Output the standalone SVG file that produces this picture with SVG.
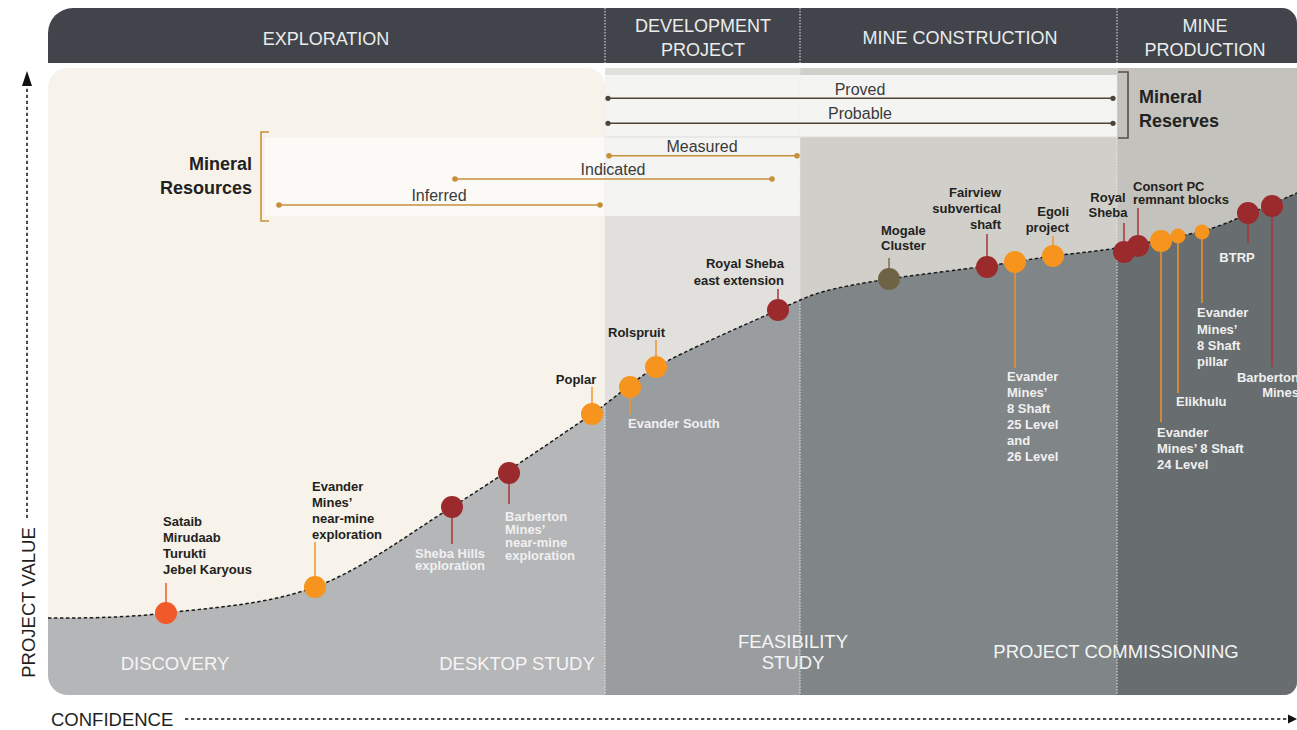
<svg xmlns="http://www.w3.org/2000/svg" width="1297" height="730" viewBox="0 0 1297 730">
<style>
text { font-family: "Liberation Sans", Arial, sans-serif; }
.hdr { font-size: 18px; fill: #ececec; text-anchor: middle; }
.stage { font-size: 18.5px; fill: #f5f5f5; text-anchor: middle; }
.lbl { font-size: 13px; font-weight: bold; fill: #231f20; }
.lt { fill: #f0f0f0; }
.mid { text-anchor: middle; }
.end { text-anchor: end; }
.rng { font-size: 16px; fill: #3a3a3a; text-anchor: middle; }
.big { font-size: 18px; font-weight: bold; fill: #222; }
.axis { font-size: 18.5px; fill: #231f20; }
.div { stroke: #e9e9e9; stroke-width: 1; stroke-dasharray: 1.5 1.5; fill: none; }
.res { stroke: #c68f3b; stroke-width: 1.6; fill: none; }
.rsv { stroke: #4f4338; stroke-width: 1.6; fill: none; }
.or { fill: #f7941d; }
.rd { fill: #9b2a2d; }
.sor { stroke: #f0952a; stroke-width: 1.5; }
.srd { stroke: #a8353a; stroke-width: 1.5; }
.ax { stroke: #111; stroke-width: 1.5; stroke-dasharray: 3.3 2.7; fill: none; }
</style>
<defs>
<clipPath id="panel">
<path d="M68,68 L587,68 A18,18 0 0 1 605,86 L605,68 L1297,68 L1297,682 A13,13 0 0 1 1284,695 L68,695 A20,20 0 0 1 48,675 L48,88 A20,20 0 0 1 68,68 Z"/>
</clipPath>
<clipPath id="under">
<path d="M48,618 C80,618 121.5,618.2 166,613 C210.5,607.8 267.3,604.7 315,587 C362.7,569.3 405.8,535.8 452,507 C498.2,478.2 558,437.3 592,414 C612.4,400 637.4,377.4 656,367 C687,349.7 750.3,322.5 778,310 C791.8,303.8 807.2,296.2 822,292 C840.5,286.8 861.5,283.3 889,279 C916.5,274.7 959.7,269.8 987,266 C1014.3,262.2 1031.3,259 1053,256 C1074.7,253 1092.2,252.2 1117,248 C1141.8,243.8 1180.2,236.7 1202,231 C1223.8,225.3 1232.2,220.3 1248,214 C1263.8,207.7 1288.8,196.5 1297,193 L1297,700 L48,700 Z"/>
</clipPath>
</defs>

<!-- header -->
<g id="header">
<path d="M73,8 H1282 A15,15 0 0 1 1297,23 V63 H48 V33 A25,25 0 0 1 73,8 Z" fill="#41454b"/>
<line x1="605" y1="8" x2="605" y2="63" class="div"/>
<line x1="800" y1="8" x2="800" y2="63" class="div"/>
<line x1="1117" y1="8" x2="1117" y2="63" class="div"/>
<text class="hdr" x="326" y="44.5">EXPLORATION</text>
<text class="hdr" x="703" y="32">DEVELOPMENT</text>
<text class="hdr" x="703" y="56">PROJECT</text>
<text class="hdr" x="960" y="43.5">MINE CONSTRUCTION</text>
<text class="hdr" x="1205" y="32">MINE</text>
<text class="hdr" x="1205" y="56">PRODUCTION</text>
</g>

<!-- main panel -->
<g id="panel-bg" clip-path="url(#panel)">
<rect x="48" y="68" width="557" height="627" fill="#f7f3ea"/>
<rect x="605" y="68" width="195" height="627" fill="#e1e0dc"/>
<rect x="800" y="68" width="317" height="627" fill="#d0cfca"/>
<rect x="1117" y="68" width="180" height="627" fill="#c3c2bc"/>
<rect x="605" y="75" width="512" height="62" fill="#f4f4f2"/>
<line x1="605" y1="137" x2="1117" y2="137" stroke="#dedddb" stroke-width="1"/>
<rect x="265" y="137.5" width="340" height="78.5" fill="#fbfaf7"/>
<rect x="605" y="137.5" width="195" height="78.5" fill="#f4f4f2"/>
<g clip-path="url(#under)">
<rect x="48" y="150" width="557" height="560" fill="#b5b6b8"/>
<rect x="605" y="150" width="195" height="560" fill="#9a9da0"/>
<rect x="800" y="150" width="317" height="560" fill="#808587"/>
<rect x="1117" y="150" width="180" height="560" fill="#686d6f"/>
</g>
<line x1="605" y1="68" x2="605" y2="695" class="div"/>
<line x1="800" y1="68" x2="800" y2="695" class="div"/>
<line x1="1117" y1="68" x2="1117" y2="695" class="div"/>
</g>

<!-- stage labels -->
<g id="stages">
<text class="stage" x="175" y="669.5">DISCOVERY</text>
<text class="stage" x="517" y="669.5">DESKTOP STUDY</text>
<text class="stage" x="793" y="647.5">FEASIBILITY</text>
<text class="stage" x="793" y="669">STUDY</text>
<text class="stage" x="1116" y="658">PROJECT COMMISSIONING</text>
</g>

<!-- reserves / resources -->
<g id="mineral-reserves">
<line x1="608" y1="98.3" x2="1113" y2="98.3" class="rsv"/>
<circle cx="608" cy="98.3" r="2.6" fill="#4f4338"/>
<circle cx="1113" cy="98.3" r="2.6" fill="#4f4338"/>
<text class="rng" x="860" y="95">Proved</text>
<line x1="608" y1="123.3" x2="1113" y2="123.3" class="rsv"/>
<circle cx="608" cy="123.3" r="2.6" fill="#4f4338"/>
<circle cx="1113" cy="123.3" r="2.6" fill="#4f4338"/>
<text class="rng" x="860" y="119">Probable</text>
<path d="M1118,72 H1128 V138 H1118" stroke="#5a4f45" stroke-width="1.6" fill="none"/>
<text class="big" x="1139" y="103">Mineral</text>
<text class="big" x="1139" y="126.5">Reserves</text>
</g>
<g id="mineral-resources">
<line x1="609" y1="155.7" x2="797" y2="155.7" class="res"/>
<circle cx="609" cy="155.7" r="2.8" fill="#c68f3b"/>
<circle cx="797" cy="155.7" r="2.8" fill="#c68f3b"/>
<text class="rng" x="702" y="152">Measured</text>
<line x1="455" y1="179" x2="772" y2="179" class="res"/>
<circle cx="455" cy="179" r="2.8" fill="#c68f3b"/>
<circle cx="772" cy="179" r="2.8" fill="#c68f3b"/>
<text class="rng" x="613" y="175">Indicated</text>
<line x1="279" y1="205" x2="600" y2="205" class="res"/>
<circle cx="279" cy="205" r="2.8" fill="#c68f3b"/>
<circle cx="600" cy="205" r="2.8" fill="#c68f3b"/>
<text class="rng" x="439" y="201">Inferred</text>
<path d="M269,132 H261 V221 H269" stroke="#c8913c" stroke-width="1.6" fill="none"/>
<text class="big" x="252" y="170" text-anchor="end">Mineral</text>
<text class="big" x="252" y="194" text-anchor="end">Resources</text>
</g>

<!-- connectors: value curve and axes -->
<g id="connectors">
<path d="M48,618 C80,618 121.5,618.2 166,613 C210.5,607.8 267.3,604.7 315,587 C362.7,569.3 405.8,535.8 452,507 C498.2,478.2 558,437.3 592,414 C612.4,400 637.4,377.4 656,367 C687,349.7 750.3,322.5 778,310 C791.8,303.8 807.2,296.2 822,292 C840.5,286.8 861.5,283.3 889,279 C916.5,274.7 959.7,269.8 987,266 C1014.3,262.2 1031.3,259 1053,256 C1074.7,253 1092.2,252.2 1117,248 C1141.8,243.8 1180.2,236.7 1202,231 C1223.8,225.3 1232.2,220.3 1248,214 C1263.8,207.7 1288.8,196.5 1297,193" fill="none" stroke="#1a1a1a" stroke-width="1.5" stroke-dasharray="3.5 2.5"/>
<line x1="27" y1="518" x2="27" y2="86" class="ax"/>
<polygon points="27,71 32,86 22,86" fill="#111"/>
<line x1="185" y1="719" x2="1288" y2="719" class="ax"/>
<polygon points="1297,719 1288,714.5 1288,723.5" fill="#111"/>
</g>
<text class="axis" x="51" y="725.5">CONFIDENCE</text>
<text class="axis" text-anchor="middle" transform="translate(34.5,602.5) rotate(-90)">PROJECT VALUE</text>

<!-- nodes -->
<g id="sataib">
<line x1="166" y1="583" x2="166" y2="603" stroke="#f05a28" stroke-width="1.5"/>
<circle cx="166" cy="613" r="11" fill="#f05a28"/>
<text class="lbl" x="163" y="526">Sataib</text>
<text class="lbl" x="163" y="542">Mirudaab</text>
<text class="lbl" x="163" y="558">Turukti</text>
<text class="lbl" x="163" y="574">Jebel Karyous</text>
</g>
<g id="evander-near-mine">
<line x1="315" y1="542" x2="315" y2="577" class="sor"/>
<circle cx="315" cy="587" r="11" class="or"/>
<text class="lbl" x="312" y="491">Evander</text>
<text class="lbl" x="312" y="507">Mines’</text>
<text class="lbl" x="312" y="523">near-mine</text>
<text class="lbl" x="312" y="539">exploration</text>
</g>
<g id="sheba-hills">
<line x1="452" y1="517" x2="452" y2="544" class="srd"/>
<circle cx="452" cy="507" r="11" class="rd"/>
<text class="lbl lt" x="415" y="557.5">Sheba Hills</text>
<text class="lbl lt" x="415" y="570">exploration</text>
</g>
<g id="barberton-near-mine">
<line x1="509" y1="483" x2="509" y2="504" class="srd"/>
<circle cx="509" cy="473" r="11" class="rd"/>
<text class="lbl lt" x="505" y="520.5">Barberton</text>
<text class="lbl lt" x="505" y="533.5">Mines’</text>
<text class="lbl lt" x="505" y="547">near-mine</text>
<text class="lbl lt" x="505" y="560">exploration</text>
</g>
<g id="poplar">
<line x1="592" y1="387" x2="592" y2="404" class="sor"/>
<circle cx="592" cy="414" r="11" class="or"/>
<text class="lbl mid" x="576" y="384">Poplar</text>
</g>
<g id="evander-south">
<line x1="630" y1="397" x2="630" y2="414" class="sor"/>
<circle cx="630" cy="387" r="11" class="or"/>
<text class="lbl lt" x="628" y="427.5">Evander South</text>
</g>
<g id="rolspruit">
<line x1="656" y1="340" x2="656" y2="357" class="sor"/>
<circle cx="656" cy="367" r="11" class="or"/>
<text class="lbl" x="608" y="336.5">Rolspruit</text>
</g>
<g id="royal-sheba-east">
<line x1="778" y1="289" x2="778" y2="300" class="srd"/>
<circle cx="778" cy="310" r="11" class="rd"/>
<text class="lbl end" x="784" y="267.5">Royal Sheba</text>
<text class="lbl end" x="784" y="285">east extension</text>
</g>
<g id="mogale">
<line x1="889" y1="258" x2="889" y2="269" stroke="#7a6e52" stroke-width="1.5"/>
<circle cx="889" cy="279" r="11" fill="#6f6346"/>
<text class="lbl" x="881" y="234.5">Mogale</text>
<text class="lbl" x="881" y="250">Cluster</text>
</g>
<g id="fairview">
<line x1="987" y1="234" x2="987" y2="257" class="srd"/>
<circle cx="987" cy="267" r="11" class="rd"/>
<text class="lbl end" x="1001" y="196.5">Fairview</text>
<text class="lbl end" x="1001" y="212.5">subvertical</text>
<text class="lbl end" x="1001" y="228.5">shaft</text>
</g>
<g id="evander-25-26">
<line x1="1015" y1="272" x2="1015" y2="368" class="sor"/>
<circle cx="1015" cy="262" r="11" class="or"/>
<text class="lbl lt" x="1007" y="381">Evander</text>
<text class="lbl lt" x="1007" y="397">Mines’</text>
<text class="lbl lt" x="1007" y="413">8 Shaft</text>
<text class="lbl lt" x="1007" y="429">25 Level</text>
<text class="lbl lt" x="1007" y="445">and</text>
<text class="lbl lt" x="1007" y="461">26 Level</text>
</g>
<g id="egoli">
<line x1="1053" y1="236" x2="1053" y2="246" class="sor"/>
<circle cx="1053" cy="256" r="11" class="or"/>
<text class="lbl end" x="1069" y="215.5">Egoli</text>
<text class="lbl end" x="1069" y="231.5">project</text>
</g>
<g id="royal-sheba">
<line x1="1124" y1="223" x2="1124" y2="242" class="srd"/>
<circle cx="1124" cy="252" r="11" class="rd"/>
<text class="lbl mid" x="1108" y="201.5">Royal</text>
<text class="lbl mid" x="1108" y="216.5">Sheba</text>
</g>
<g id="consort">
<line x1="1138" y1="208" x2="1138" y2="236" class="srd"/>
<circle cx="1138" cy="246" r="11" class="rd"/>
<text class="lbl" x="1133" y="190.5">Consort PC</text>
<text class="lbl" x="1133" y="204">remnant blocks</text>
</g>
<g id="evander-24">
<line x1="1161" y1="251" x2="1161" y2="422" class="sor"/>
<circle cx="1161" cy="241" r="11" class="or"/>
<text class="lbl lt" x="1157" y="436.5">Evander</text>
<text class="lbl lt" x="1157" y="452.5">Mines’ 8 Shaft</text>
<text class="lbl lt" x="1157" y="468.5">24 Level</text>
</g>
<g id="elikhulu">
<line x1="1178" y1="242" x2="1178" y2="393" class="sor"/>
<circle cx="1178" cy="236" r="7.5" class="or"/>
<text class="lbl lt" x="1176" y="405.5">Elikhulu</text>
</g>
<g id="evander-pillar">
<line x1="1202" y1="238" x2="1202" y2="303" class="sor"/>
<circle cx="1202" cy="232" r="7.5" class="or"/>
<text class="lbl lt" x="1197" y="317">Evander</text>
<text class="lbl lt" x="1197" y="333.5">Mines’</text>
<text class="lbl lt" x="1197" y="349.5">8 Shaft</text>
<text class="lbl lt" x="1197" y="365.5">pillar</text>
</g>
<g id="btrp">
<line x1="1248" y1="223" x2="1248" y2="243" class="srd"/>
<circle cx="1248" cy="213" r="11" class="rd"/>
<text class="lbl lt mid" x="1237" y="261.5">BTRP</text>
</g>
<g id="barberton-mines">
<line x1="1272" y1="216" x2="1272" y2="367" class="srd"/>
<circle cx="1272" cy="206" r="11" class="rd"/>
<text class="lbl lt end" x="1299" y="381.5">Barberton</text>
<text class="lbl lt end" x="1299" y="397">Mines</text>
</g>
</svg>
